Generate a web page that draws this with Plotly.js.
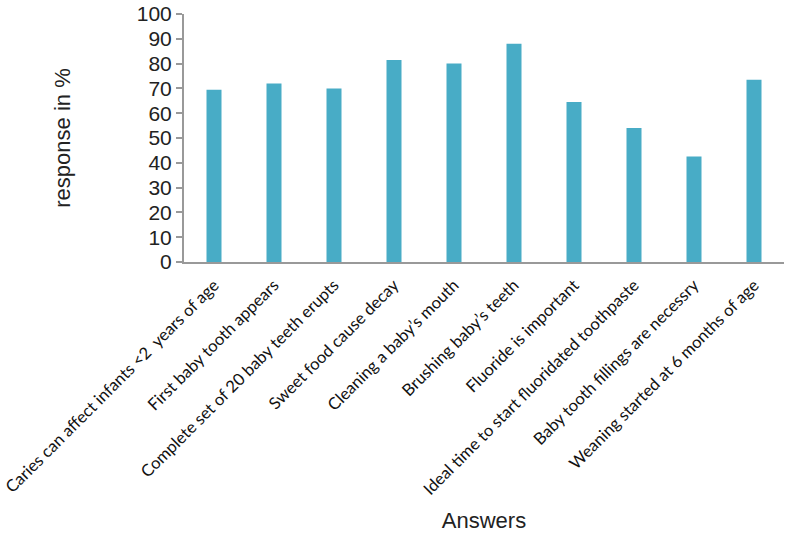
<!DOCTYPE html>
<html>
<head>
<meta charset="utf-8">
<script src="https://cdn.plot.ly/plotly-3.0.1.min.js"></script>
<style>html,body{margin:0;padding:0;background:#fff;}#chart{width:785px;height:533px;}</style>
</head>
<body>
<div id="chart"></div>
<script>
const categories = [
  "Caries can affect infants <2\u00a0 years of age",
  "First baby tooth appears",
  "Complete set of 20 baby teeth erupts",
  "Sweet food cause decay",
  "Cleaning a baby\u2019s mouth",
  "Brushing baby\u2019s teeth",
  "Fluoride is important",
  "Ideal time to start fluoridated toothpaste",
  "Baby tooth fillings are necessry",
  "Weaning started at 6 months of age"
];
const responsePct = [69.5, 72, 70, 81.5, 80, 88, 64.5, 54, 42.5, 73.5];
const yTicks = [0, 10, 20, 30, 40, 50, 60, 70, 80, 90, 100];

const trace = {
  type: 'bar',
  x: categories,
  y: responsePct,
  marker: {color: '#48acc6'},
  hoverinfo: 'x+y'
};

const layout = {
  width: 785, height: 533,
  margin: {l: 184, r: 1, t: 14, b: 271},
  paper_bgcolor: '#fff', plot_bgcolor: '#fff',
  showlegend: false,
  bargap: 0.75,
  font: {family: 'Liberation Sans, Arial, sans-serif', color: '#222'},
  xaxis: {
    type: 'category',
    range: [-0.5, 9.5],
    tickangle: -45,
    ticklabelstandoff: 5,
    tickfont: {family: 'Lato, Open Sans, sans-serif', size: 16.6, color: '#111'},
    showline: true, linecolor: '#999', linewidth: 2,
    ticks: '', showgrid: false, zeroline: false,
    automargin: false,
    title: {text: 'Answers', font: {size: 22, color: '#222'}, standoff: 40}
  },
  yaxis: {
    range: [0, 100],
    tickvals: yTicks,
    ticktext: yTicks.map(String),
    tickfont: {size: 21, color: '#222'},
    showline: true, linecolor: '#999', linewidth: 2,
    ticks: 'outside', ticklen: 6, tickcolor: '#999', tickwidth: 2,
    showgrid: false, zeroline: false,
    automargin: false,
    title: {text: 'response in %', font: {size: 22, color: '#222'}, standoff: 60}
  }
};

Plotly.newPlot('chart', [trace], layout, {displayModeBar: false, staticPlot: true});
</script>
</body>
</html>
